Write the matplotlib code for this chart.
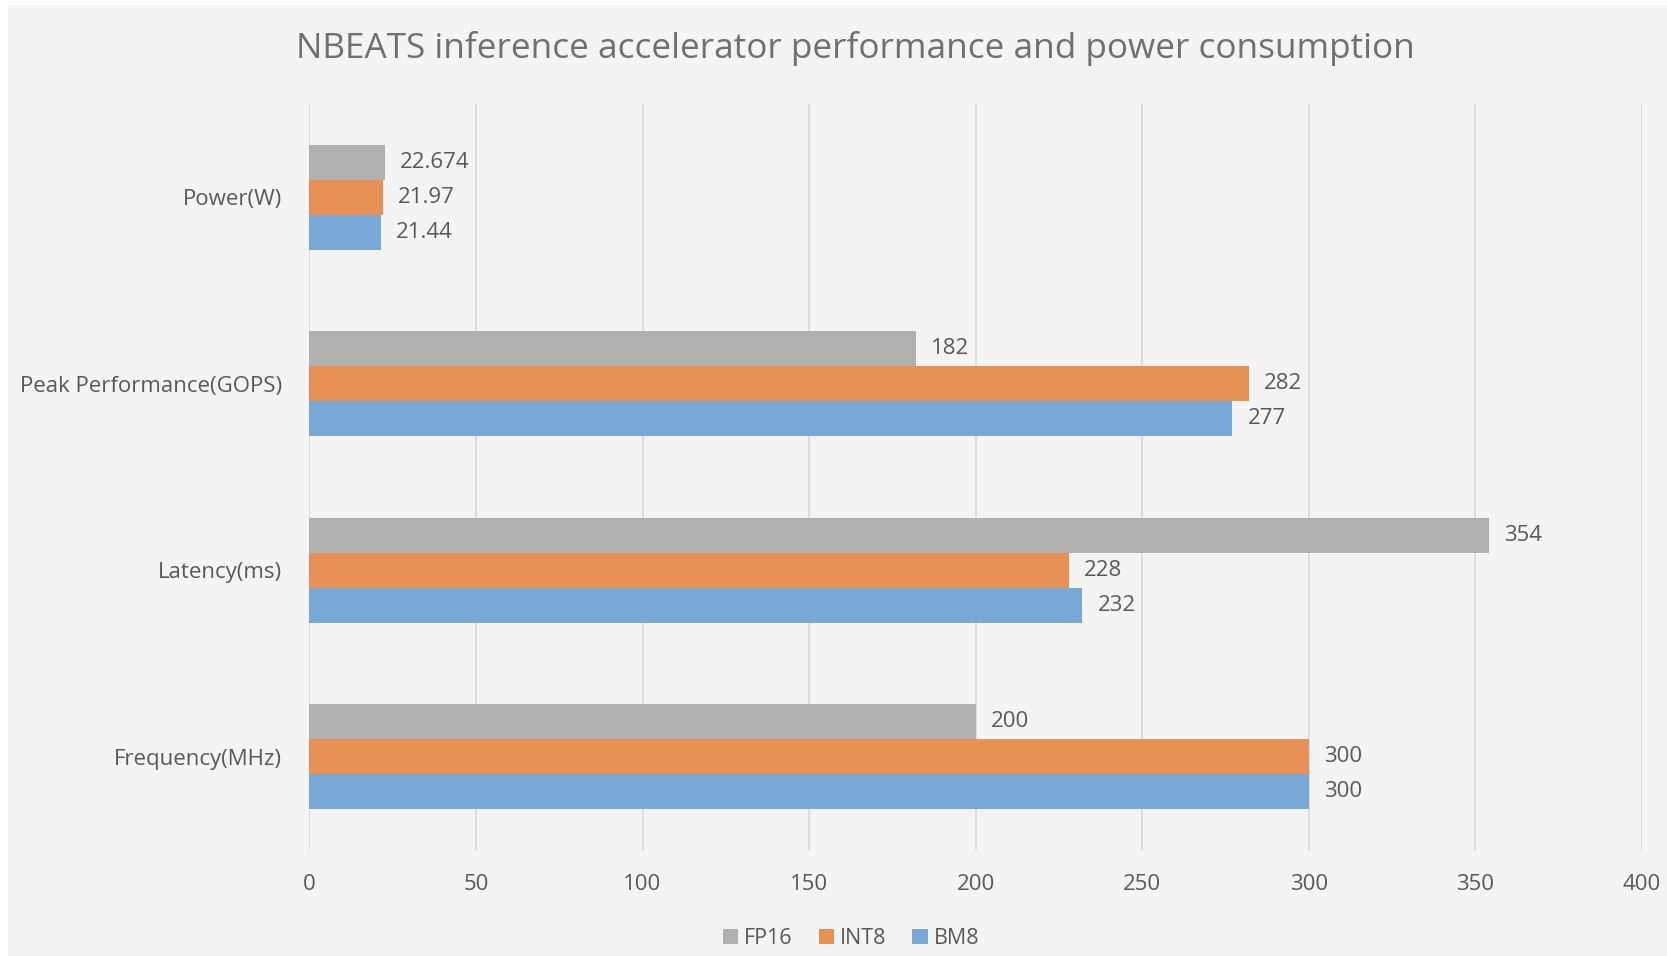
import matplotlib.pyplot as plt
import matplotlib.patches as mpatches
import numpy as np

plt.rcParams['font.family'] = ['Open Sans', 'DejaVu Sans']

# categories from bottom to top
categories = ['Frequency(MHz)', 'Latency(ms)', 'Peak Performance(GOPS)', 'Power(W)']
fp16 = [200, 354, 182, 22.674]
int8 = [300, 228, 282, 21.97]
bm8 = [300, 232, 277, 21.44]
fp16_labels = ['200', '354', '182', '22.674']
int8_labels = ['300', '228', '282', '21.97']
bm8_labels = ['300', '232', '277', '21.44']

c_fp16 = '#b0b0b0'
c_int8 = '#e89157'
c_bm8 = '#77a8d6'
txt = '#595959'

fig = plt.figure(figsize=(16.67, 9.56), dpi=100, facecolor='white')
# light gray chart area with thin white border at top/left
fig.patches.append(mpatches.Rectangle((8/1667, 0), 1, 1 - 5/956, transform=fig.transFigure,
                                      facecolor='#f4f4f4', edgecolor='none', zorder=-10))
ax = fig.add_axes([0.1856, 0.1109, 0.985 - 0.1856, 0.8912 - 0.1109])
ax.set_facecolor('none')

y = np.arange(len(categories))
h = 0.1875

b1 = ax.barh(y + h, fp16, height=h, color=c_fp16, label='FP16', zorder=3)
b2 = ax.barh(y, int8, height=h, color=c_int8, label='INT8', zorder=3)
b3 = ax.barh(y - h, bm8, height=h, color=c_bm8, label='BM8', zorder=3)

for bars, labs in [(b1, fp16_labels), (b2, int8_labels), (b3, bm8_labels)]:
    ax.bar_label(bars, labels=labs, padding=11, color=txt, fontsize=16)

ax.set_xlim(0, 400)
ax.set_ylim(-0.5, len(categories) - 0.5)
ax.set_xticks(np.arange(0, 401, 50))
ax.set_yticks(y)
ax.set_yticklabels(categories)
ax.tick_params(axis='both', length=0, colors=txt, labelsize=16)
ax.tick_params(axis='y', pad=19.5)
ax.tick_params(axis='x', pad=17)
ax.grid(axis='x', color='#d9d9d9', linewidth=1.2, zorder=0)
for s in ax.spines.values():
    s.set_visible(False)

fig.text(0.5133, 0.949, 'NBEATS inference accelerator performance and power consumption',
         ha='center', va='center', fontsize=25.3, color='#707070')

leg = fig.legend(handles=[b1, b2, b3], loc='center', bbox_to_anchor=(0.5106, 0.018),
                 ncol=3, frameon=False, fontsize=15.5, handlelength=0.7, handleheight=0.7,
                 handletextpad=0.3, columnspacing=1.2)
for t in leg.get_texts():
    t.set_color(txt)

fig.savefig('out.png', dpi=100, facecolor=fig.get_facecolor())
